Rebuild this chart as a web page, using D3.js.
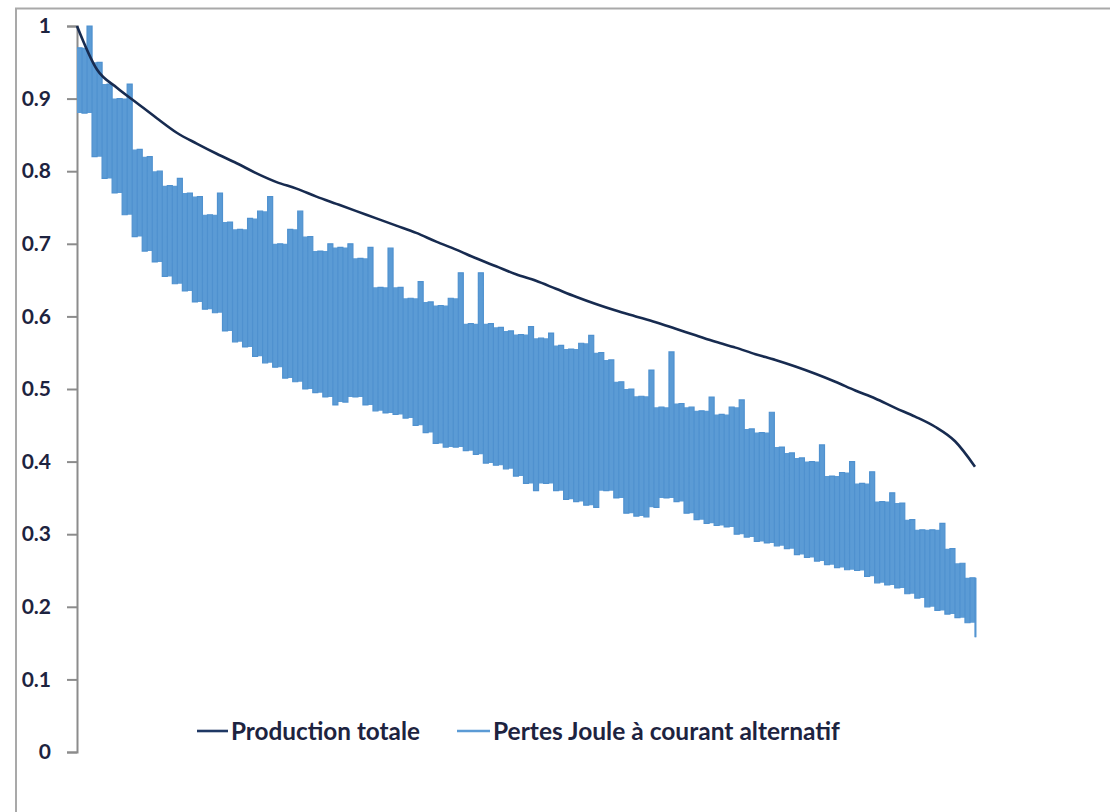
<!DOCTYPE html>
<html>
<head>
<meta charset="utf-8">
<script src="https://cdn.jsdelivr.net/npm/d3@7"></script>
<style>
  html, body { margin: 0; padding: 0; background: #ffffff; }
  svg { display: block; }
</style>
</head>
<body>
<svg id="chart" width="1110" height="812"></svg>
<script>
// ---------------- DATA ----------------
const yTicks = [0, 0.1, 0.2, 0.3, 0.4, 0.5, 0.6, 0.7, 0.8, 0.9, 1];
const seriesNames = ["Production totale", "Pertes Joule à courant alternatif"];
const totalHours = 8760;

// Production totale (sorted, evenly spaced over the hours)
const production = [
  1.0, 0.94, 0.915, 0.894, 0.873, 0.853, 0.838, 0.824, 0.811, 0.797,
  0.785, 0.776, 0.765, 0.755, 0.745, 0.735, 0.725, 0.715, 0.703, 0.692,
  0.68, 0.669, 0.658, 0.649, 0.638, 0.627, 0.617, 0.608, 0.6, 0.592,
  0.583, 0.574, 0.565, 0.557, 0.548, 0.54, 0.531, 0.521, 0.51, 0.498,
  0.487, 0.474, 0.462, 0.448, 0.428, 0.393
];

// Pertes Joule : successive highs and lows of the oscillating series
const pertesHaut = [
  0.97, 1.0, 0.95, 0.92, 0.90, 0.92, 0.83, 0.82, 0.80, 0.78,
  0.79, 0.77, 0.765, 0.74, 0.77, 0.73, 0.72, 0.735, 0.745, 0.765,
  0.70, 0.72, 0.745, 0.71, 0.69, 0.70, 0.695, 0.70, 0.68, 0.695,
  0.64, 0.694, 0.64, 0.625, 0.648, 0.62, 0.615, 0.625, 0.66, 0.59,
  0.66, 0.59, 0.585, 0.58, 0.575, 0.586, 0.57, 0.577, 0.56, 0.555,
  0.563, 0.574, 0.55, 0.54, 0.51, 0.50, 0.49, 0.526, 0.475, 0.551,
  0.48, 0.475, 0.47, 0.489, 0.465, 0.475, 0.485, 0.445, 0.44, 0.468,
  0.42, 0.412, 0.405, 0.40, 0.423, 0.38, 0.385, 0.40, 0.37, 0.386,
  0.345, 0.357, 0.343, 0.32, 0.306, 0.306, 0.315, 0.28, 0.26, 0.24
];
const pertesBas = [
  0.88, 0.82, 0.79, 0.77, 0.74, 0.71, 0.69, 0.675, 0.655, 0.645,
  0.635, 0.62, 0.61, 0.605, 0.58, 0.565, 0.558, 0.545, 0.536, 0.53,
  0.515, 0.51, 0.50, 0.495, 0.489, 0.478, 0.482, 0.489, 0.478, 0.47,
  0.467, 0.465, 0.46, 0.45, 0.44, 0.425, 0.42, 0.42, 0.415, 0.41,
  0.398, 0.395, 0.39, 0.38, 0.37, 0.36, 0.37, 0.36, 0.348, 0.345,
  0.34, 0.337, 0.36, 0.35, 0.329, 0.325, 0.324, 0.337, 0.35, 0.345,
  0.329, 0.32, 0.315, 0.312, 0.31, 0.30, 0.296, 0.29, 0.288, 0.284,
  0.28, 0.272, 0.268, 0.263, 0.258, 0.254, 0.251, 0.25, 0.242, 0.233,
  0.23, 0.226, 0.218, 0.212, 0.20, 0.195, 0.19, 0.185, 0.178, 0.158
];

// ---------------- BUILD ----------------
const pertes = [];
pertesHaut.forEach((h, i) => { pertes.push(h); pertes.push(pertesBas[i]); });
const n = pertes.length;
const step = totalHours / (n - 1);
const pertesPts = pertes.map((v, i) => ({ h: i * step, v }));
const prodPts = production.map((v, i) => ({ h: i * totalHours / (production.length - 1), v }));

// envelope of the oscillation: each high/low spans only its own slot,
// neighbouring slots are filled up to the lower of the two adjacent highs
const env = pertesPts.map((d, i) => {
  const k = Math.floor(i / 2);
  if (i % 2 === 0) {
    const prevLow = k > 0 ? pertesBas[k - 1] : pertesBas[k];
    return { h: d.h, top: pertesHaut[k], bot: Math.max(prevLow, pertesBas[k]) };
  } else {
    const nextHigh = k + 1 < pertesHaut.length ? pertesHaut[k + 1] : pertesHaut[k];
    return { h: d.h, top: Math.min(pertesHaut[k], nextHigh), bot: pertesBas[k] };
  }
});
env.push({ h: totalHours + step * 0.3, top: env[n - 1].top, bot: env[n - 1].bot });

const svg = d3.select("#chart");
const x = d3.scaleLinear().domain([0, totalHours]).range([77, 975]);
const y = d3.scaleLinear().domain([0, 1]).range([752, 26]);

// frame
svg.append("rect")
  .attr("x", 16).attr("y", 8.5).attr("width", 1120).attr("height", 830)
  .attr("fill", "none").attr("stroke", "#a9a9a9").attr("stroke-width", 2);

// Y axis
const yAxis = d3.axisLeft(y)
  .tickValues(yTicks)
  .tickFormat(d => d === 0 ? "0" : d === 1 ? "1" : d3.format(".1f")(d))
  .tickSize(10).tickPadding(16);
const gy = svg.append("g").attr("transform", "translate(77,0)").call(yAxis);
gy.select(".domain").attr("stroke", "#8c8c8c").attr("stroke-width", 2);
gy.selectAll(".tick line").attr("stroke", "#8c8c8c").attr("stroke-width", 2);
gy.selectAll(".tick text")
  .attr("fill", "#1d2340")
  .style("font-family", "Lato, 'Open Sans', sans-serif")
  .style("font-weight", "bold")
  .style("font-size", "21px");

// Pertes band fill
svg.append("path")
  .datum(env)
  .attr("d", d3.area()
    .x(d => x(d.h))
    .y1(d => y(d.top))
    .y0(d => y(d.bot))
    .curve(d3.curveStepAfter))
  .attr("fill", "#5b9bd5");

// Pertes line (oscillating), vertical strokes
svg.append("path")
  .datum(pertesPts)
  .attr("d", d3.line().x(d => x(d.h)).y(d => y(d.v)).curve(d3.curveStepAfter))
  .attr("fill", "none")
  .attr("stroke", "#4f91cf")
  .attr("stroke-width", 1.2);

// Production totale line
svg.append("path")
  .datum(prodPts)
  .attr("d", d3.line().x(d => x(d.h)).y(d => y(d.v)).curve(d3.curveMonotoneX))
  .attr("fill", "none")
  .attr("stroke", "#172b50")
  .attr("stroke-width", 2.6);

// Legend
const legendItems = [
  { name: seriesNames[0], color: "#1f3864", x0: 197, x1: 228, tx: 231, tw: 189 },
  { name: seriesNames[1], color: "#5b9bd5", x0: 457, x1: 490, tx: 493, tw: 347 }
];
const lg = svg.append("g");
legendItems.forEach(it => {
  lg.append("line")
    .attr("x1", it.x0).attr("x2", it.x1).attr("y1", 731).attr("y2", 731)
    .attr("stroke", it.color).attr("stroke-width", 2.6);
  const t = lg.append("text")
    .attr("x", it.tx).attr("y", 731).attr("dy", "0.36em")
    .attr("fill", "#1d2340")
    .style("font-family", "Lato, 'Open Sans', sans-serif")
    .style("font-weight", "bold")
    .style("font-size", "22px")
    .text(it.name);
  const w = t.node().getComputedTextLength();
  t.style("font-size", (22 * it.tw / w).toFixed(2) + "px");
});
</script>
</body>
</html>
